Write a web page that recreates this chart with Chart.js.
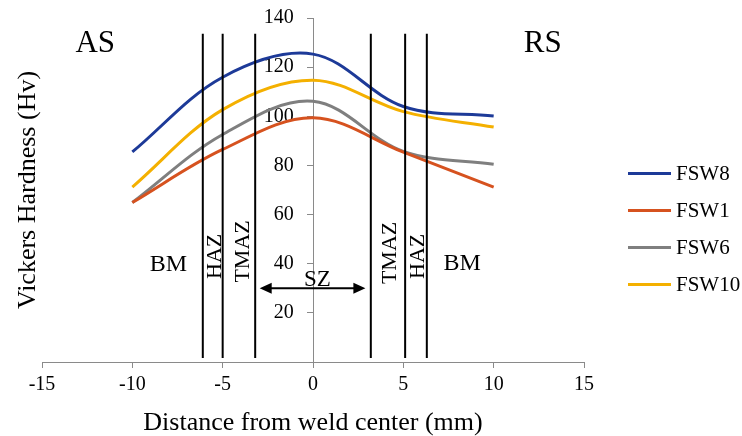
<!DOCTYPE html>
<html>
<head>
<meta charset="utf-8">
<script src="https://cdn.jsdelivr.net/npm/chart.js@4.4.1/dist/chart.umd.min.js"></script>
<style>
  html, body { margin: 0; padding: 0; background: #ffffff; }
  #wrap { width: 742px; height: 436px; }
</style>
</head>
<body>
<div id="wrap"><canvas id="c" width="742" height="436"></canvas></div>
<script>
// Measurement positions across the weld (mm from centre line)
const distances = [-10, -5, 0, 5, 10];

// Vickers hardness (Hv) for each weld
const fsw8  = [85.5, 115.9, 125.3, 104.0, 100.1];
const fsw1  = [64.9, 86.5, 99.4, 85.4, 71.2];
const fsw6  = [64.9, 92.6, 106.1, 85.7, 80.5];
const fsw10 = [71.2, 102.7, 114.7, 101.9, 95.6];

const seriesNames  = ['FSW8', 'FSW1', 'FSW6', 'FSW10'];
const seriesValues = [fsw8, fsw1, fsw6, fsw10];
const seriesColors = ['#1d3a98', '#d6521f', '#7f7f7f', '#f4b000'];

// Zone boundaries (mm) and the hardness range the boundary lines span
const zoneBoundaries = [-6.1, -5.0, -3.2, 3.2, 5.1, 6.3];
const zoneLineRange  = [1.6, 133.6];

// Axis ranges and steps
const xRange = [-15, 15];
const xStep = 5;
const yRange = [0, 140];
const yStep = 20;

const SERIF = '"Liberation Serif", "Times New Roman", serif';

// Zone captions, placed in data coordinates
const zoneCaptions = [
  { text: 'AS',   x: -12.05, y: 126.0, size: 31 },
  { text: 'RS',   x: 12.72,  y: 126.0, size: 31 },
  { text: 'BM',   x: -8.0,   y: 37.1,  size: 24 },
  { text: 'BM',   x: 8.26,   y: 37.6,  size: 24 },
  { text: 'HAZ',  x: -5.09,  y: 43.0,  size: 22, vertical: true },
  { text: 'TMAZ', x: -3.56,  y: 45.0,  size: 22, vertical: true },
  { text: 'TMAZ', x: 4.58,   y: 44.4,  size: 22, vertical: true },
  { text: 'HAZ',  x: 6.16,   y: 43.0,  size: 22, vertical: true },
  { text: 'SZ',   x: 0.24,   y: 30.8,  size: 23 }
];
// Double-headed arrow spanning the stir zone
const szArrow = { from: -2.95, to: 2.9, y: 30.0 };

const curveSets = seriesNames.map((name, i) => ({
  label: name,
  data: distances.map((d, k) => ({ x: d, y: seriesValues[i][k] })),
  borderColor: seriesColors[i],
  backgroundColor: seriesColors[i],
  borderWidth: 3,
  showLine: true,
  tension: 0.35,
  pointRadius: 0,
  order: 1
}));

const zoneSets = zoneBoundaries.map(b => ({
  data: [{ x: b, y: zoneLineRange[0] }, { x: b, y: zoneLineRange[1] }],
  borderColor: '#000000',
  borderWidth: 2,
  showLine: true,
  pointRadius: 0,
  tension: 0,
  order: 0
}));

const annotations = {
  id: 'annotations',
  afterDatasetsDraw(chart) {
    const { ctx } = chart;
    const xs = chart.scales.x, ys = chart.scales.y;
    ctx.save();
    ctx.fillStyle = '#000000';
    ctx.strokeStyle = '#000000';

    zoneCaptions.forEach(c => {
      const px = xs.getPixelForValue(c.x);
      const py = ys.getPixelForValue(c.y);
      ctx.font = c.size + 'px ' + SERIF;
      ctx.textBaseline = 'alphabetic';
      ctx.textAlign = 'center';
      if (c.vertical) {
        ctx.save();
        ctx.translate(px, py);
        ctx.rotate(-Math.PI / 2);
        ctx.fillText(c.text, 0, 0);
        ctx.restore();
      } else {
        ctx.fillText(c.text, px, py);
      }
    });

    // stir-zone arrow
    const ax1 = xs.getPixelForValue(szArrow.from);
    const ax2 = xs.getPixelForValue(szArrow.to);
    const ay = ys.getPixelForValue(szArrow.y);
    const head = 12, half = 5.5;
    ctx.lineWidth = 2;
    ctx.beginPath();
    ctx.moveTo(ax1 + head - 1, ay);
    ctx.lineTo(ax2 - head + 1, ay);
    ctx.stroke();
    ctx.beginPath();
    ctx.moveTo(ax1, ay);
    ctx.lineTo(ax1 + head, ay - half);
    ctx.lineTo(ax1 + head, ay + half);
    ctx.closePath();
    ctx.fill();
    ctx.beginPath();
    ctx.moveTo(ax2, ay);
    ctx.lineTo(ax2 - head, ay - half);
    ctx.lineTo(ax2 - head, ay + half);
    ctx.closePath();
    ctx.fill();

    // legend for the hardness curves
    const items = chart.data.datasets.filter(d => d.label);
    ctx.font = '21px ' + SERIF;
    ctx.textAlign = 'left';
    ctx.textBaseline = 'middle';
    items.forEach((d, i) => {
      const ly = 173.5 + i * 37;
      ctx.strokeStyle = d.borderColor;
      ctx.lineWidth = 3;
      ctx.beginPath();
      ctx.moveTo(628, ly);
      ctx.lineTo(671, ly);
      ctx.stroke();
      ctx.fillStyle = '#000000';
      ctx.fillText(d.label, 676, ly + 1);
    });
    ctx.restore();
  }
};

const axisGray = '#8a8a8a';

new Chart(document.getElementById('c'), {
  type: 'scatter',
  data: { datasets: [...zoneSets, ...curveSets] },
  options: {
    responsive: false,
    animation: false,
    devicePixelRatio: 1,
    layout: { padding: { left: 0, right: 158, top: 18, bottom: 0 } },
    plugins: { legend: { display: false }, tooltip: { enabled: false } },
    scales: {
      x: {
        type: 'linear',
        position: 'bottom',
        min: xRange[0], max: xRange[1],
        ticks: { stepSize: xStep, color: '#000', font: { family: SERIF, size: 20 }, padding: 5 },
        grid: { display: true, drawOnChartArea: false, drawTicks: true, tickLength: 6, color: axisGray },
        border: { display: true, color: axisGray, width: 1 },
        title: { display: true, text: 'Distance from weld center (mm)', color: '#000',
                 font: { family: SERIF, size: 26 }, padding: { top: 0, bottom: -3 } },
        afterFit(s) { s.height = 74; }
      },
      y: {
        type: 'linear',
        position: { x: 0 },
        min: yRange[0], max: yRange[1],
        ticks: { stepSize: yStep, display: false },
        grid: { display: true, drawOnChartArea: false, drawTicks: true, tickLength: 6, color: axisGray },
        border: { display: true, color: axisGray, width: 1 }
      },
      yLabels: {
        axis: 'y',
        type: 'linear',
        position: { x: -1.07 },
        min: yRange[0], max: yRange[1],
        ticks: { stepSize: yStep, color: '#000', font: { family: SERIF, size: 20 },
                 callback: v => (v === 0 ? '' : v) },
        grid: { display: false },
        border: { display: false }
      },
      yTitle: {
        axis: 'y',
        type: 'linear',
        position: 'left',
        min: yRange[0], max: yRange[1],
        ticks: { display: false },
        grid: { display: false },
        border: { display: false },
        title: { display: true, text: 'Vickers Hardness (Hv)', color: '#000',
                 font: { family: SERIF, size: 26 }, padding: { top: 13, bottom: 0 } },
        afterFit(s) { s.width = 42; }
      }
    }
  },
  plugins: [annotations]
});
</script>
</body>
</html>
